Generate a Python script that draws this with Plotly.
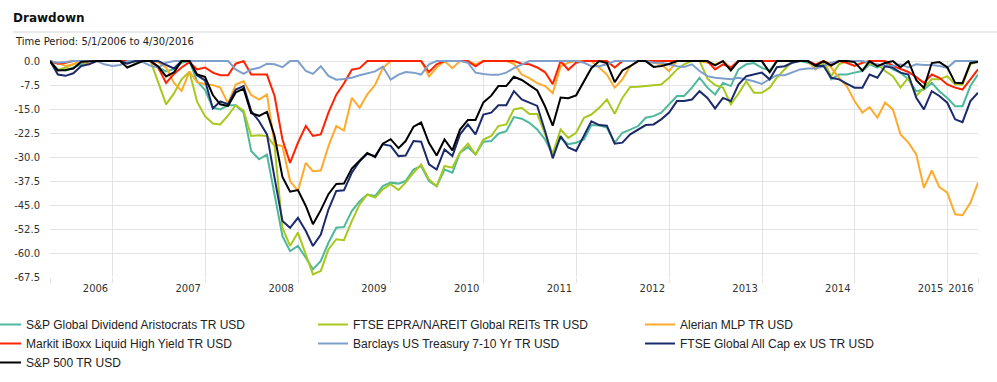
import pandas as pd
import plotly.graph_objects as go

# ---- data (month-end drawdowns, %) Apr-2006 .. Apr-2016 ----
dates = pd.date_range("2006-04-30", periods=121, freq="ME")

sp_global_div = [
    0, -2.6, -3.0, -2.0, -1.0, 0, 0, 0, 0,
    0, -0.5, 0, 0, 0, -2.0, -3.2, -2.5, -0.5, 0, -6.3, -9.0,
    -14.6, -15.1, -13.8, -13.8, -16.1, -28.1, -30.7, -29.2, -41.7, -54.7, -59.4, -57.8,
    -61.5, -65.1, -62.5, -56.8, -52.1, -51.9, -46.9, -43.8, -41.7, -42.2, -39.1, -38.0,
    -38.3, -37.5, -33.9, -32.8, -37.5, -39.1, -33.9, -34.9, -28.6, -26.9, -29.2, -25.2,
    -25.0, -22.7, -21.9, -17.5, -18.0, -19.3, -21.4, -24.5, -29.2, -24.0, -26.0, -25.5,
    -24.5, -20.0, -20.1, -20.8, -25.5, -22.4, -21.4, -20.3, -17.7, -17.2, -16.1, -13.5,
    -10.9, -10.9, -8.3, -5.2, -8.3, -10.4, -6.8, -7.8, -2.6, -1.0, -0.6, -2.1,
    -2.9, 0, 0, 0, 0, -0.5, -1.5, -0.8, -5.7, -4.2, -4.2, -3.6,
    -3.1, -1.0, -2.0, -0.5, -2.6, -3.6, -5.7, -9.4, -8.9, -6.8, -9.4, -11.5,
    -14.1, -14.1, -7.8, -4.2,
]
ftse_reits = [
    0, -2.8, -2.0, -1.0, 0, 0, 0, 0, 0,
    0, 0, -0.5, 0, 0, -6.4, -13.5, -10.1, -5.7, -3.3, -12.7, -17.2,
    -19.5, -19.8, -17.0, -13.8, -15.5, -23.4, -23.2, -23.4, -26.5, -52.1, -57.8, -53.6,
    -60.4, -66.7, -65.6, -58.9, -55.7, -56.0, -50.0, -44.8, -41.7, -42.7, -40.1, -38.5,
    -40.3, -38.0, -34.9, -32.3, -37.0, -39.1, -32.8, -33.3, -28.6, -25.8, -29.2, -24.5,
    -23.4, -20.3, -19.8, -15.1, -14.6, -16.5, -16.5, -22.9, -29.0, -21.4, -24.0, -22.4,
    -17.7, -16.7, -14.6, -12.0, -16.5, -11.5, -8.1, -8.0, -7.8, -7.6, -7.3, -5.2,
    -2.6, -1.0, 0, 0, -5.5, -7.5, -8.3, -13.5, -10.2, -6.3, -9.9, -9.9,
    -8.3, -5.2, -2.6, 0, 0, 0, -1.5, 0, -4.7, -1.0, 0, 0,
    0, -1.0, -1.0, -3.1, -4.7, -8.3, -5.2, -10.9, -8.3, -5.7, -5.7, -4.7,
    -7.3, -7.3, -1.0, 0,
]
alerian_mlp = [
    0, -0.5, -1.5, -1.0, 0, -1.0, 0, 0, 0,
    0, 0, 0, 0, 0, -0.3, -2.0, -6.8, -9.3, -3.3, -6.6, -7.2,
    -7.5, -8.3, -13.3, -7.3, -6.3, -10.6, -12.0, -10.4, -26.0, -26.6, -37.5, -40.6,
    -31.8, -34.4, -34.2, -26.6, -20.3, -21.7, -11.5, -14.6, -10.4, -7.4, -2.2, 0,
    0, 0, 0, 0, -4.8, -2.0, 0, -2.2, 0, 0, -1.0, 0,
    0, 0, 0, -0.8, -4.2, -5.3, -6.9, -7.8, -10.0, -1.6, -0.5, 0,
    0, 0, -2.0, -4.2, -8.3, -5.7, -1.6, 0, 0, -0.5, -1.0, -3.1,
    0, 0, 0, 0, -0.5, -1.0, 0, -2.0, 0, 0, 0, 0,
    0, 0, 0, 0, 0, 0, -2.6, 0, -2.0, -5.2, -7.8, -12.5,
    -16.1, -14.4, -17.7, -13.0, -15.1, -22.9, -25.5, -29.2, -39.6, -34.2, -39.4, -41.1,
    -47.9, -48.2, -44.3, -38.0,
]
markit_hy = [
    0, -0.8, -0.5, 0, 0, 0, 0, 0, 0,
    0, 0, 0, 0, 0, -2.0, -6.8, -4.0, -2.0, -0.3, -2.6, -2.0,
    -3.6, -4.4, -4.4, -0.8, 0, -4.2, -4.2, -4.2, -10.9, -24.5, -31.8, -25.5,
    -20.3, -23.4, -22.9, -16.1, -10.5, -7.0, -2.7, -2.2, 0, 0, 0, 0,
    0, 0, 0, 0, -3.4, -1.0, 0, 0, 0, 0, -1.6, 0,
    0, 0, 0, 0, -0.8, -1.0, -2.0, -3.5, -7.2, 0, -2.7, -0.5,
    0, 0, 0, 0, -2.0, 0, 0, 0, 0, 0, 0, 0,
    0, 0, 0, 0, 0, -2.6, -1.0, -2.0, 0, 0, 0, 0,
    0, 0, 0, 0, 0, 0, -1.0, 0, -1.0, 0, -0.5, -1.5,
    -0.5, 0, 0, 0, -1.5, -2.4, -3.4, -5.0, -6.8, -4.2, -5.2, -7.3,
    -8.3, -8.9, -5.7, -2.6,
]
barclays_tsy = [
    0, -0.5, -0.3, 0, 0, 0, 0, -1.0, -1.5,
    -1.2, 0, 0, -0.3, -1.5, -2.0, -0.5, 0, 0, 0, 0, 0,
    0, 0, 0, -2.6, -4.0, -2.6, -2.1, -0.8, -1.0, -1.9, 0, 0,
    -3.1, -4.0, -1.6, -4.6, -5.8, -5.6, -5.2, -4.4, -3.8, -3.2, -1.7, -5.8,
    -4.2, -3.4, -3.6, -4.2, -1.0, 0, 0, 0, 0, -0.5, -3.6, -4.0,
    -4.3, -4.3, -3.6, -2.2, -1.0, 0, 0, 0, 0, 0, 0, 0,
    -0.5, -1.6, -1.6, -1.0, 0, 0, 0, 0, 0, -0.5, -0.5, -1.0,
    -1.6, -1.8, -1.0, -3.1, -4.7, -5.2, -5.4, -5.7, -5.2, -5.7, -6.3, -7.1,
    -5.7, -4.4, -4.4, -3.6, -2.6, -2.3, -2.3, -1.6, -0.5, 0, 0, 0,
    0, -0.5, -1.0, -1.5, -1.5, -1.0, -2.0, -1.0, -1.2, -1.2, -1.5, -2.1,
    0, 0, 0, 0,
]
ftse_all_cap_exus = [
    0, -4.2, -4.6, -3.8, -1.5, -1.0, 0, 0, 0,
    0, -0.8, 0, 0, 0, 0, -1.2, -2.3, 0, 0, -4.4, -6.0,
    -14.8, -12.6, -13.5, -8.9, -7.8, -15.6, -18.8, -22.9, -36.5, -50.0, -52.1, -49.0,
    -53.1, -57.8, -54.2, -46.4, -40.6, -40.4, -34.9, -31.3, -29.0, -29.7, -26.0, -26.5,
    -29.7, -29.5, -25.0, -25.2, -32.3, -33.9, -27.6, -29.7, -22.9, -19.8, -22.9, -16.7,
    -16.1, -13.8, -13.8, -9.4, -12.0, -13.0, -14.0, -21.9, -30.4, -23.4, -27.0, -28.1,
    -23.1, -18.8, -20.0, -20.2, -25.8, -25.5, -22.9, -21.4, -20.0, -19.8, -18.2, -16.1,
    -12.5, -12.5, -12.0, -9.4, -11.5, -14.8, -11.5, -12.5, -7.3, -4.7, -4.2, -3.6,
    -5.7, -1.9, -1.6, -0.5, 0, 0, -1.5, -1.5, -5.2, -5.7, -7.0, -8.3,
    -8.3, -4.2, -5.2, -1.6, -2.1, -3.6, -4.2, -11.5, -15.1, -9.4, -10.9, -13.0,
    -18.2, -19.1, -12.5, -9.9,
]
sp500 = [
    0, -2.9, -2.8, -2.3, -0.2, 0, 0, 0, 0,
    0, -2.0, -1.0, 0, 0, -1.7, -4.8, -3.5, 0, 0, -4.2, -4.9,
    -10.6, -13.5, -14.0, -9.8, -8.6, -16.3, -17.1, -15.9, -23.4, -36.2, -40.8, -40.3,
    -45.3, -51.0, -46.6, -41.6, -38.4, -38.3, -33.6, -31.2, -28.7, -30.0, -25.8, -24.4,
    -27.2, -25.0, -20.5, -19.2, -25.6, -29.5, -24.5, -27.9, -21.4, -18.4, -18.4, -12.9,
    -10.8, -7.8, -7.8, -4.9, -5.9, -7.5, -9.2, -14.2, -20.2, -11.4, -11.6, -10.7,
    -6.3, -2.2, 0, -0.6, -6.6, -2.9, -1.6, 0, 0, -1.8, -1.5, -0.9,
    0, 0, 0, 0, 0, -1.3, 0, -2.9, 0, 0, 0, 0,
    -3.5, 0, 0, 0, 0, 0, -1.4, 0, -1.4, 0, 0, -0.3,
    -3.0, 0, -1.6, -0.6, 0, -1.9, 0, -6.0, -8.4, -0.6, -0.3, -1.9,
    -6.8, -6.9, -0.6, -0.3,
]

series_names = [
    "S&P Global Dividend Aristocrats TR USD",
    "FTSE EPRA/NAREIT Global REITs TR USD",
    "Alerian MLP TR USD",
    "Markit iBoxx Liquid High Yield TR USD",
    "Barclays US Treasury 7-10 Yr TR USD",
    "FTSE Global All Cap ex US TR USD",
    "S&P 500 TR USD",
]
series_values = [sp_global_div, ftse_reits, alerian_mlp, markit_hy,
                 barclays_tsy, ftse_all_cap_exus, sp500]
series_colors = ["#4DB89B", "#A8C81E", "#FFAA2C", "#FF2200",
                 "#7E9FCC", "#1B2A6B", "#000000"]

y_tick_vals = [0, -7.5, -15, -22.5, -30, -37.5, -45, -52.5, -60, -67.5]
y_tick_text = ["0.0", "-7.5", "-15.0", "-22.5", "-30.0", "-37.5",
               "-45.0", "-52.5", "-60.0", "-67.5"]
x_tick_vals = ["2006-04-30", "2007-01-01", "2008-01-01", "2009-01-01", "2010-01-01",
               "2011-01-01", "2012-01-01", "2013-01-01", "2014-01-01", "2015-01-01",
               "2016-01-01", "2016-04-30"]
x_tick_text = ["", "2006", "2007", "2008", "2009", "2010", "2011", "2012",
               "2013", "2014", "2015", "2016"]

# ---- figure ----
W, H = 997, 382
ML, MR, MT, MB = 50, 19, 60, 105
PW, PH = W - ML - MR, H - MT - MB


def y_px_to_paper(py):
    return (H - MB - py) / PH


def x_px_to_paper(px):
    return (px - ML) / PW


fig = go.Figure()
for name, vals, col in zip(series_names, series_values, series_colors):
    fig.add_trace(go.Scatter(x=dates, y=vals, name=name, mode="lines",
                             line=dict(color=col, width=2)))

grid = "#E3E3E3"
fig.update_layout(
    width=W, height=H,
    margin=dict(l=ML, r=MR, t=MT, b=MB, pad=0, autoexpand=False),
    paper_bgcolor="white", plot_bgcolor="white",
    font=dict(family="DejaVu Sans", size=10, color="#333333"),
    title=dict(text="Drawdown", font=dict(family="DejaVu Sans", size=12, weight="bold", color="#111111"),
               xref="container", yref="container", x=13 / W, xanchor="left",
               y=1 - 18 / H, yanchor="middle"),
    xaxis=dict(type="date", range=["2006-04-30", "2016-04-30"],
               tickvals=x_tick_vals, ticktext=x_tick_text,
               ticklabelshift=-17, ticklabelstandoff=-3,
               showgrid=True, gridcolor=grid, gridwidth=1,
               ticks="outside", ticklen=5, tickcolor=grid, tickwidth=1,
               showline=False, zeroline=False,
               tickfont=dict(family="DejaVu Sans", size=10, color="#333333")),
    yaxis=dict(range=[-67.5, 0.35], tickvals=y_tick_vals, ticktext=y_tick_text,
               showgrid=True, gridcolor=grid, gridwidth=1, zeroline=False,
               showline=False, ticks="", ticklabelstandoff=9,
               tickfont=dict(family="DejaVu Sans", size=10, color="#333333")),
    legend=dict(orientation="h", xref="paper", yref="paper",
                x=x_px_to_paper(-14), xanchor="left",
                y=y_px_to_paper(310), yanchor="top",
                entrywidth=282, entrywidthmode="pixels",
                font=dict(family="Liberation Sans", size=12, color="#222222"),
                bgcolor="rgba(0,0,0,0)", itemwidth=30),
    showlegend=True,
)

# line under the title and the time period text
fig.add_shape(type="line", xref="paper", yref="paper",
              x0=x_px_to_paper(13), x1=x_px_to_paper(W), y0=y_px_to_paper(32), y1=y_px_to_paper(32),
              line=dict(color="#D6D6D6", width=1))
fig.add_annotation(text="Time Period: 5/1/2006 to 4/30/2016", xref="paper", yref="paper",
                   x=x_px_to_paper(13), y=y_px_to_paper(41), xanchor="left", yanchor="middle",
                   showarrow=False, font=dict(family="DejaVu Sans", size=10, color="#222222"))

# remove the browser's default 8px body margin so the figure sits at the page origin
fig.write_html("out.html",
               config={"displayModeBar": False},
               post_script="document.body.style.margin='0px';document.body.style.overflow='hidden';")
